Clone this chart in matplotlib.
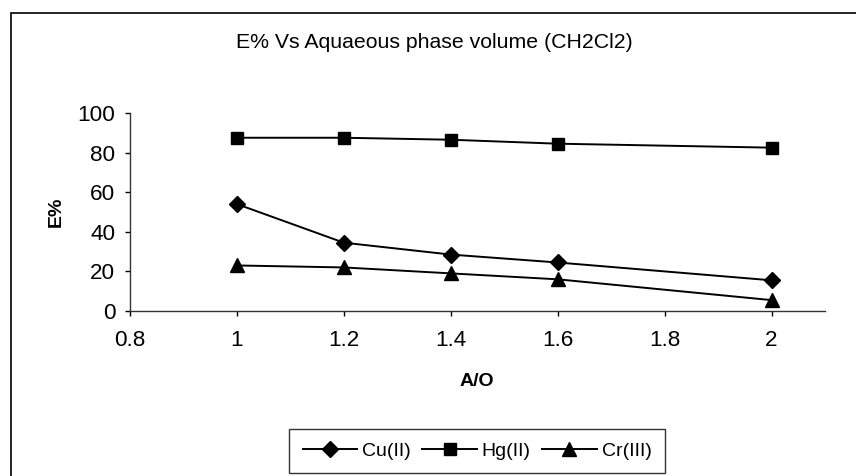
import matplotlib
matplotlib.use("Agg")
import matplotlib.pyplot as plt
from matplotlib.patches import Rectangle

# === DATA ===
ao_ratio = [1.0, 1.2, 1.4, 1.6, 2.0]
cu_ext = [54, 34.5, 28.5, 24.5, 15.5]
hg_ext = [87.5, 87.5, 86.5, 84.5, 82.5]
cr_ext = [23, 22, 19, 16, 5.5]

x_ticks = [0.8, 1.0, 1.2, 1.4, 1.6, 1.8, 2.0]
x_tick_labels = ["0.8", "1", "1.2", "1.4", "1.6", "1.8", "2"]
y_ticks = [0, 20, 40, 60, 80, 100]

plt.rcParams["font.family"] = ["Liberation Sans", "DejaVu Sans"]

W, H = 856, 476
fig = plt.figure(figsize=(W / 100, H / 100), dpi=100)

# outer chart border (Excel chart area)
fig.patches.append(Rectangle((11 / W, -0.05), 1.2, 1 - 13 / H + 0.05,
                             transform=fig.transFigure, fill=False,
                             edgecolor="black", linewidth=1.2))

ax = fig.add_axes([130 / W, 1 - 311 / H, 695 / W, 198 / H])

ax.plot(ao_ratio, cu_ext, color="black", lw=1.4, marker="D", ms=8, label="Cu(II)")
ax.plot(ao_ratio, hg_ext, color="black", lw=1.4, marker="s", ms=8.5, label="Hg(II)")
ax.plot(ao_ratio, cr_ext, color="black", lw=1.4, marker="^", ms=10, label="Cr(III)")

ax.set_xlim(0.8, 2.1)
ax.set_ylim(0, 100)
ax.set_xticks(x_ticks)
ax.set_xticklabels(x_tick_labels)
ax.set_yticks(y_ticks)
ax.tick_params(direction="out", length=3.6, width=1, labelsize=16.2, colors="black")
ax.tick_params(axis="y", pad=7)
ax.tick_params(axis="x", pad=10)

for s in ["top", "right"]:
    ax.spines[s].set_visible(False)
for s in ["left", "bottom"]:
    ax.spines[s].set_color("#333333")
    ax.spines[s].set_linewidth(1)

fig.text(434 / W, 1 - 42 / H, "E% Vs Aquaeous phase volume (CH2Cl2)",
         ha="center", va="center", fontsize=15.3)
fig.text(56 / W, 1 - 212 / H, "E%", rotation=90, ha="center", va="center",
         fontsize=14, fontweight="bold")
fig.text(477 / W, 1 - 381 / H, "A/O", ha="center", va="center",
         fontsize=14, fontweight="bold")

leg = fig.legend(loc="center", bbox_to_anchor=(477 / W, 1 - 451 / H), ncol=3,
                 fontsize=14, frameon=True, fancybox=False, edgecolor="black",
                 handlelength=2.8, handletextpad=0.25, columnspacing=0.6,
                 borderpad=0.7, borderaxespad=0)
leg.get_frame().set_linewidth(1)

plt.savefig("out.png", dpi=100)
